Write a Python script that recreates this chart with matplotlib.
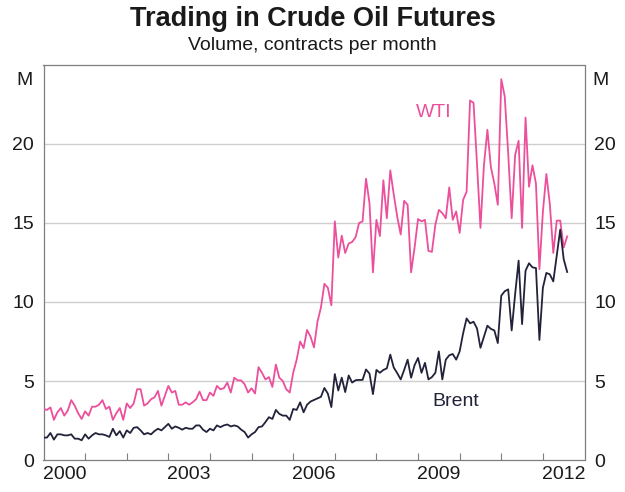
import numpy as np
import pandas as pd
import matplotlib
matplotlib.use('Agg')
import matplotlib.pyplot as plt

plt.rcParams['font.family'] = ['Liberation Sans', 'DejaVu Sans']

# monthly volumes, millions of contracts, from Jan 2000
wti = [3.23, 3.17, 3.33, 2.54, 3.02, 3.29, 2.81, 3.13, 3.79, 3.44, 2.96, 2.6,
       3.08, 2.81, 3.375, 3.375, 3.5, 3.79, 3.23, 3.375, 2.54, 2.96, 3.29, 2.54,
       3.58, 3.29, 3.58, 4.48, 4.48, 3.44, 3.58, 3.85, 3.96, 4.375, 3.44, 4.06,
       4.69, 4.27, 4.375, 3.5, 3.5, 3.65, 3.5, 3.65, 3.85, 4.33, 3.79, 3.79,
       4.27, 4.06, 4.69, 4.48, 4.54, 4.9, 4.27, 5.21, 5.04, 5.04, 4.79, 4.27,
       4.54, 4.21, 5.875, 5.52, 5.1, 5.25, 4.625, 6.04, 5.21, 5.0, 4.48, 4.27,
       5.52, 6.35, 7.5, 7.08, 8.23, 7.81, 7.125, 8.75, 9.65, 11.15, 10.9, 9.79,
       15.1, 12.81, 14.2, 13.1, 13.7, 13.8, 14.1, 15.0, 15.1, 17.8, 16.25, 11.875,
       15.2, 14.17, 17.7, 15.3, 18.33, 16.8, 15.4, 14.27, 16.4, 16.15, 11.875, 13.44,
       15.25, 15.1, 15.2, 13.23, 13.17, 14.9, 15.83, 15.625, 15.3, 17.25, 15.2, 15.73,
       14.375, 16.46, 16.98, 22.75, 22.6, 18.75, 14.69, 18.65, 20.9, 18.54, 17.5, 16.15,
       24.1, 23.0, 19.4, 15.3, 19.3, 20.2, 14.69, 21.67, 17.29, 18.65, 17.5, 12.08,
       15.7, 18.1, 16.2, 13.1, 15.15, 15.15, 13.45, 14.15]

brent = [1.42, 1.42, 1.71, 1.29, 1.625, 1.625, 1.56, 1.56, 1.625, 1.35, 1.35, 1.25,
         1.625, 1.35, 1.56, 1.71, 1.625, 1.625, 1.56, 1.46, 1.98, 1.56, 1.83, 1.42,
         1.875, 1.71, 2.04, 2.08, 1.875, 1.625, 1.71, 1.625, 1.83, 1.98, 1.875, 2.08,
         2.29, 1.98, 2.125, 2.04, 1.92, 2.04, 1.98, 1.98, 2.19, 2.19, 1.92, 1.77,
         1.98, 1.875, 2.19, 2.08, 2.19, 2.25, 2.125, 2.19, 2.125, 1.92, 1.77, 1.42,
         1.625, 1.77, 2.08, 2.125, 2.4, 2.71, 2.6, 3.17, 2.92, 2.81, 2.81, 2.54,
         3.23, 3.17, 3.65, 3.02, 3.5, 3.7, 3.8, 3.9, 4.0, 4.56, 4.2, 3.35,
         5.44, 4.4, 5.21, 4.3, 5.35, 4.9, 5.05, 5.07, 5.07, 5.73, 5.47, 4.17,
         5.7, 5.52, 5.7, 5.8, 6.67, 5.85, 5.5, 5.1, 5.7, 6.35, 5.21, 6.0,
         6.46, 5.52, 6.15, 5.1, 5.25, 5.52, 6.875, 5.1, 6.35, 6.625, 6.71, 6.35,
         6.875, 8.02, 8.96, 8.65, 8.75, 8.33, 7.1, 7.8, 8.5, 8.3, 8.2, 7.4,
         10.4, 10.68, 10.8, 8.2, 10.5, 12.62, 8.6, 11.98, 12.45, 12.19, 12.15, 7.6,
         10.9, 11.84, 11.75, 11.3, 12.96, 14.58, 12.71, 11.9]

year_labels = [2000, 2003, 2006, 2009, 2012]
y_ticks = [0, 5, 10, 15, 20]

dates = pd.date_range('2000-01-01', periods=len(wti), freq='MS')
x = dates.year + (dates.month - 1) / 12.0

pink = '#EC4F9B'
navy = '#22223A'
frame = '#7F7F7F'
txt = '#1A1A1A'

fig = plt.figure(figsize=(6.25, 4.92), dpi=100)
ax = fig.add_axes([0.0696, 0.065, 0.8656, 0.803])

ax.plot(x, wti, color=pink, lw=1.3, zorder=3)
ax.plot(x, brent, color=navy, lw=1.3, zorder=3)

ax.set_xlim(2000, 2013)
ax.set_ylim(0, 25)

# year boundary ticks, labels centred mid-year
ax.set_xticks(range(2001, 2013))
ax.set_xticklabels([])
ax.set_xticks([y + 0.5 for y in year_labels], minor=True)
ax.set_xticklabels([str(y) for y in year_labels], minor=True)
ax.tick_params(axis='x', which='major', direction='in', length=5, color=frame, width=0.8)
ax.tick_params(axis='x', which='minor', length=0, labelsize=14, pad=4, labelcolor=txt)

ax.set_yticks(y_ticks)
ax.tick_params(axis='y', length=0, labelsize=14, pad=7, labelright=True, labelcolor=txt)

for v in y_ticks[1:]:
    ax.axhline(v, color='#CFCFCF', lw=1.0, zorder=1)

for s in ax.spines.values():
    s.set_color(frame)
    s.set_linewidth(0.9)

# unit labels
ax.text(-0.02, 24, 'M', transform=ax.get_yaxis_transform(), ha='right', va='center',
        fontsize=14, color=txt)
ax.text(1.015, 24, 'M', transform=ax.get_yaxis_transform(), ha='left', va='center',
        fontsize=14, color=txt)

ax.text(2009.38, 22.0, 'WTI', color=pink, fontsize=14, ha='center', va='center')
ax.text(2009.9, 3.7, 'Brent', color=navy, fontsize=14, ha='center', va='center')

fig.text(0.5, 0.962, 'Trading in Crude Oil Futures', ha='center', va='center',
         fontsize=19.5, fontweight='bold', color=txt)
fig.text(0.5, 0.908, 'Volume, contracts per month', ha='center', va='center',
         fontsize=14, color=txt)

fig.savefig('out.png', dpi=100)
